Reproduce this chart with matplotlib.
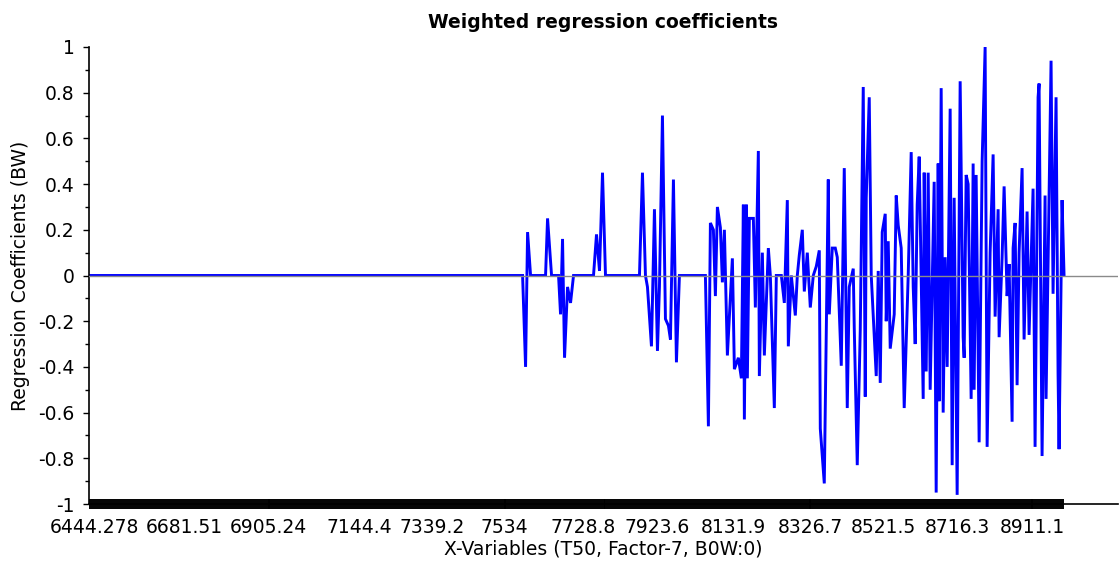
import matplotlib
matplotlib.use("Agg")
import matplotlib.pyplot as plt
import numpy as np

plt.rcParams['font.family'] = ['DejaVu Sans']

# Variable index (position along the X-variable axis) and weighted regression coefficient
var_index = [0, 433, 436, 438, 441, 456, 458, 462, 469, 471, 473, 475, 478, 481, 484,
             504, 507, 510, 513, 516, 550, 553, 556, 558, 562, 565, 568, 570, 573, 576,
             579, 581, 584, 587, 590, 616,
             619, 621, 624, 626, 628, 631, 633, 635, 638, 643, 645, 649, 652, 654, 655,
             657, 658, 660, 664, 666, 669, 670, 673, 675, 679, 681, 685, 687, 692, 695,
             698, 699, 702, 706, 708, 710, 713, 715, 718, 721, 724, 727, 730, 731, 735,
             739, 740, 743, 746, 748, 752, 755, 758, 760, 764, 765, 768, 771, 774, 776,
             777, 780, 782, 787, 789, 791, 793, 796, 797, 799, 801, 805, 807, 809, 812,
             815, 819, 822, 824, 826, 828, 830, 834, 835, 837, 839, 841, 845, 847, 849,
             850, 852, 854, 856, 858, 861, 863, 865, 868, 871, 874, 875, 877, 879, 882,
             884, 885, 887, 890, 893, 896, 898, 901, 904, 906, 909, 910, 913, 915, 918,
             920, 923, 924, 926, 928, 930, 933, 935, 938, 940, 944, 946, 949, 950, 953,
             956, 957, 962, 964, 967, 969, 970, 973, 975]
coef_values = [0.0, 0.0, -0.40, 0.19, 0.0, 0.0, 0.25, 0.0, 0.0, -0.17, 0.16, -0.36, -0.05, -0.12, 0.0,
               0.0, 0.18, 0.02, 0.45, 0.0, 0.0, 0.45, 0.0, -0.05, -0.31, 0.29, -0.33, -0.05, 0.70, -0.19,
               -0.22, -0.28, 0.42, -0.38, 0.0, 0.0,
               -0.66, 0.23, 0.20, -0.09, 0.30, 0.21, -0.03, 0.20, -0.35, 0.075, -0.41, -0.36, -0.45, 0.31, -0.63,
               0.31, -0.45, 0.25, 0.25, -0.14, 0.545, -0.44, 0.10, -0.35, 0.12, 0.0, -0.58, 0.0, 0.0, -0.12,
               0.33, -0.31, 0.0, -0.175, 0.0, 0.09, 0.20, -0.07, 0.10, -0.14, 0.0, 0.04, 0.11, -0.67, -0.91,
               0.42, -0.17, 0.12, 0.12, 0.08, -0.395, 0.47, -0.58, -0.05, 0.03, -0.23, -0.83, -0.24, 0.825, -0.53,
               0.34, 0.78, 0.0, -0.44, 0.02, -0.47, 0.19, 0.27, -0.20, 0.15, -0.32, -0.17, 0.35, 0.22, 0.12,
               -0.58, 0.0, 0.54, -0.05, -0.30, 0.31, 0.52, -0.54, 0.45, -0.42, 0.45, -0.50, 0.41, -0.95, 0.49,
               -0.55, 0.82, -0.60, 0.08, -0.40, 0.73, -0.83, 0.34, -0.96, 0.85, -0.27, -0.36, 0.44, 0.40, -0.54,
               0.49, -0.50, 0.44, -0.73, 0.50, 1.0, -0.75, 0.10, 0.53, -0.18, 0.29, -0.27, 0.08, 0.39, -0.09,
               0.05, -0.64, 0.12, 0.23, -0.48, 0.10, 0.47, -0.28, 0.28, -0.26, 0.38, -0.75, 0.78, 0.84, -0.79,
               0.35, -0.54, 0.94, -0.08, 0.78, -0.43, -0.76, 0.33, 0.0]

n_variables = 976
x_tick_index = [4, 94, 179, 270, 342, 415, 494, 568, 644, 721, 794, 868, 943]
x_tick_labels = ["6444.278", "6681.51", "6905.24", "7144.4", "7339.2", "7534", "7728.8",
                 "7923.6", "8131.9", "8326.7", "8521.5", "8716.3", "8911.1"]
y_ticks = [-1, -0.8, -0.6, -0.4, -0.2, 0, 0.2, 0.4, 0.6, 0.8, 1]
y_tick_labels = ["-1", "-0.8", "-0.6", "-0.4", "-0.2", "0", "0.2", "0.4", "0.6", "0.8", "1"]

W, H = 1120, 568
fig = plt.figure(figsize=(W / 100, H / 100), dpi=100)
ax = fig.add_axes([89 / W, 1 - 504 / H, (1118 - 89) / W, (504 - 47) / H])

ax.plot(var_index, coef_values, color="#0000ff", lw=2.1, solid_joinstyle="miter", zorder=2)
ax.axhline(0, color="#8a8a8a", lw=1.0, zorder=3)

ax.set_xlim(-1, 1029)
ax.set_ylim(-1, 1)

for s in ("top", "right"):
    ax.spines[s].set_visible(False)
for s in ("left", "bottom"):
    ax.spines[s].set_color("black")
    ax.spines[s].set_linewidth(1.2)

ax.set_xticks(x_tick_index)
ax.set_xticklabels(x_tick_labels)
ax.set_xticks(np.arange(0, n_variables, 2), minor=True)
ax.tick_params(axis="x", which="both", direction="inout", length=7.5, width=1.4,
               color="black", labelsize=13.5, pad=6)

ax.set_yticks(y_ticks)
ax.set_yticklabels(y_tick_labels)
ax.set_yticks(np.arange(-1, 1.01, 0.1), minor=True)
ax.tick_params(axis="y", which="major", direction="out", length=4.5, width=1.0,
               labelsize=13.5, pad=6)
ax.tick_params(axis="y", which="minor", direction="out", length=3, width=1.0)

ax.set_title("Weighted regression coefficients", fontsize=13.5, fontweight="bold", pad=14)
ax.set_xlabel("X-Variables (T50, Factor-7, B0W:0)", fontsize=13.5, labelpad=2)
ax.set_ylabel("Regression Coefficients (BW)", fontsize=13.5, labelpad=6)

fig.savefig("out.png", dpi=100)
